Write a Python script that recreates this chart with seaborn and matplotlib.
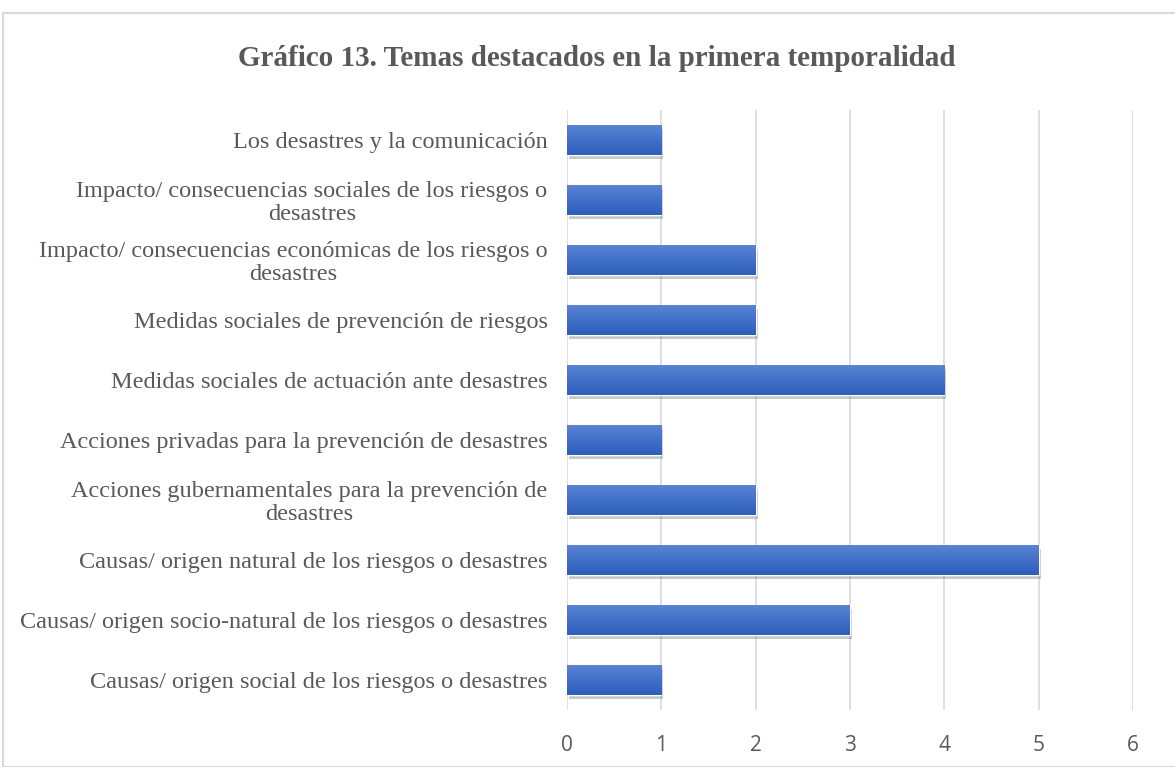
import numpy as np
import matplotlib.pyplot as plt
import matplotlib.patheffects as pe
from matplotlib.patches import Rectangle
from matplotlib.colors import LinearSegmentedColormap
import seaborn as sns
import pandas as pd


sns.set_style('white')

temas = [
    'Los desastres y la comunicación',
    'Impacto/ consecuencias sociales de los riesgos o\ndesastres',
    'Impacto/ consecuencias económicas de los riesgos o\ndesastres',
    'Medidas sociales de prevención de riesgos',
    'Medidas sociales de actuación ante desastres',
    'Acciones privadas para la prevención de desastres',
    'Acciones gubernamentales para la prevención de\ndesastres',
    'Causas/ origen natural de los riesgos o desastres',
    'Causas/ origen socio-natural de los riesgos o desastres',
    'Causas/ origen social de los riesgos o desastres',
]
valores = [1, 1, 2, 2, 4, 1, 2, 5, 3, 1]
xticks = [0, 1, 2, 3, 4, 5, 6]

df = pd.DataFrame({'tema': temas, 'valor': valores})

fig = plt.figure(figsize=(11.75, 7.67), dpi=100)
ax = fig.add_axes([567/1175, 1 - 710/767, 566/1175, 600/767])

sns.barplot(data=df, y='tema', x='valor', orient='h', color='#4472C4',
            width=0.5, saturation=1, ax=ax, zorder=3)

# gradient fill like the office chart
grad = LinearSegmentedColormap.from_list('g', ['#5A84D3', '#4170C8', '#2F5EBB'])
g = np.linspace(0, 1, 64).reshape(-1, 1)
for p in ax.patches:
    p.set_path_effects([pe.SimplePatchShadow(offset=(1.5, -3), shadow_rgbFace='#666666', alpha=0.35),
                        pe.Normal()])
    x0, y0 = p.get_x(), p.get_y()
    w, h = p.get_width(), p.get_height()
    im = ax.imshow(g, cmap=grad, aspect='auto', extent=(x0, x0 + w, y0 + h, y0),
                   origin='upper', zorder=4, interpolation='bilinear')
    im.set_clip_path(p)

ax.set_xlim(0, 6)
ax.set_ylim(len(temas) - 0.5, -0.5)
ax.set_xticks(xticks)
ax.set_xticklabels([str(t) for t in xticks], fontfamily='Open Sans', fontsize=15, color='#595959')
ax.tick_params(axis='both', length=0)
ax.tick_params(axis='x', pad=18)
ax.tick_params(axis='y', pad=14)
for lbl in ax.get_yticklabels():
    lbl.set_fontfamily('Liberation Serif')
    lbl.set_fontsize(17.5)
    lbl.set_color('#595959')
    lbl.set_multialignment('center')
    lbl.set_linespacing(1.1)
ax.set_xlabel('')
ax.set_ylabel('')
ax.grid(axis='x', color='#d9d9d9', linewidth=1.2, zorder=0)
ax.grid(axis='y', visible=False)
for s in ax.spines.values():
    s.set_visible(False)

fig.patches.append(Rectangle((3/1175, 0), 1.0, 1 - 13/767, transform=fig.transFigure,
                             fill=False, edgecolor='#d9d9d9', linewidth=1.5))
fig.text(597/1175, 1 - 58/767, 'Gráfico 13. Temas destacados en la primera temporalidad',
         ha='center', va='center', fontfamily='Liberation Serif', fontweight='bold',
         fontsize=21, color='#595959')

plt.savefig('out.png')
